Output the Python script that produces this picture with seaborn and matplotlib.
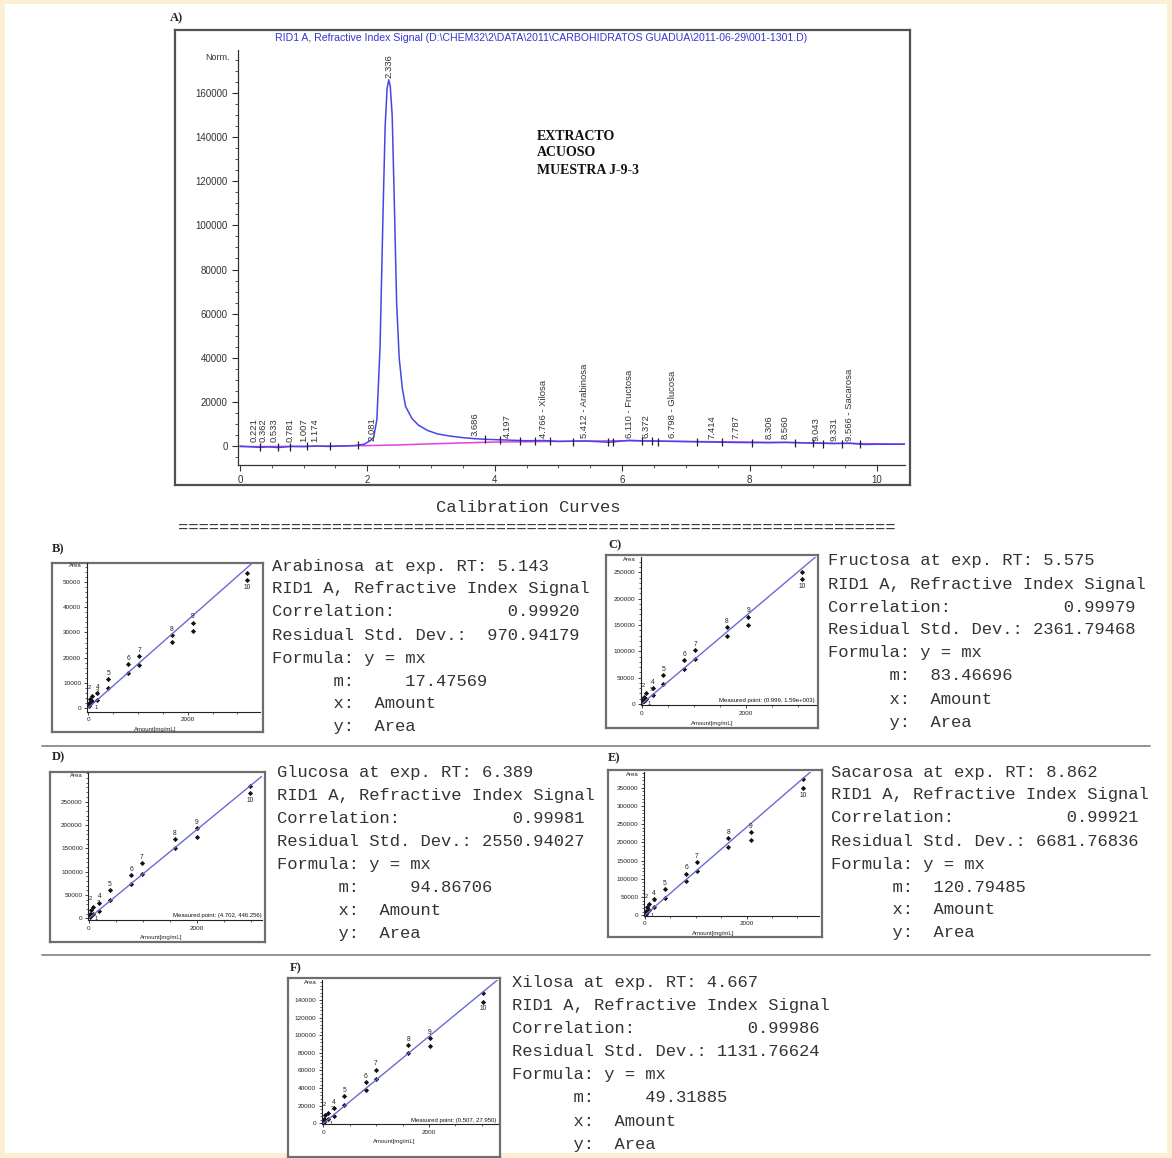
import matplotlib
matplotlib.use("Agg")
import matplotlib.pyplot as plt
from matplotlib.patches import Rectangle
from matplotlib.ticker import MultipleLocator, FixedLocator
import seaborn as sns

sns.set_style("white")
plt.rcParams["font.family"] = ["Liberation Sans", "DejaVu Sans"]

W, H = 1172, 1158

# ---- chromatogram (panel A) ----
rt = [0.0, 0.15, 0.3, 0.45, 0.6, 0.8, 1.0, 1.2, 1.4, 1.6, 1.8, 1.95, 2.05, 2.1,
      2.15, 2.2, 2.25, 2.28, 2.31, 2.336, 2.36, 2.39, 2.42, 2.46, 2.5, 2.55, 2.6,
      2.7, 2.8, 2.95, 3.1, 3.3, 3.5, 3.7, 3.9, 4.2, 4.5, 4.77, 5.0, 5.41, 5.8,
      6.11, 6.37, 6.8, 7.4, 7.8, 8.3, 8.56, 9.04, 9.33, 9.57, 9.8, 10.0, 10.44]
signal = [0, -300, -600, -400, -700, -200, -300, 0, -200, 0, 200, 800, 2500, 4000,
          12000, 45000, 110000, 145000, 162000, 166000, 163000, 150000, 115000,
          65000, 40000, 26000, 18000, 12500, 9500, 7000, 5500, 4500, 3800, 3300,
          3000, 2700, 2400, 2500, 2100, 2300, 1700, 2600, 2300, 2100, 1800, 1600,
          1500, 1700, 1300, 1100, 1300, 700, 800, 800]
base_rt = [0.0, 1.0, 2.0, 2.5, 3.0, 4.0, 5.0, 6.0, 7.0, 8.0, 9.0, 10.0, 10.44]
base_sig = [-300, -100, 200, 500, 1000, 1800, 2100, 2400, 2100, 1800, 1400, 1000, 900]

peak_rt = [0.221, 0.362, 0.533, 0.781, 1.007, 1.174, 2.081, 2.336, 3.686, 4.197,
           4.766, 5.412, 6.110, 6.372, 6.798, 7.414, 7.787, 8.306, 8.560, 9.043,
           9.331, 9.566]
peak_names = ["0.221", "0.362", "0.533", "0.781", "1.007", "1.174", "2.081", "2.336",
              "3.686", "4.197", "4.766 - Xilosa", "5.412 - Arabinosa",
              "6.110 - Fructosa", "6.372", "6.798 - Glucosa", "7.414", "7.787",
              "8.306", "8.560", "9.043", "9.331", "9.566 - Sacarosa"]
peak_label_y = [2000, 2000, 2000, 2000, 2000, 2000, 2500, 167000, 4500, 3500, 3500,
                3500, 3500, 3500, 3500, 3000, 3000, 3000, 3000, 2500, 2500, 2500]
mark_rt = [0.31, 0.60, 0.78, 1.05, 1.41, 1.85, 3.85, 4.08, 4.40, 4.63, 4.87, 5.23,
           5.78, 5.86, 6.31, 6.47, 6.56, 7.17, 7.57, 8.04, 8.71, 9.0, 9.15, 9.45, 9.73]
mark_y = [-300, -500, -600, -200, 0, 300, 3000, 2700, 2500, 2300, 2100, 2000, 1800,
          1800, 2300, 2100, 2000, 1700, 1600, 1500, 1400, 1200, 1100, 1000, 800]

# ---- calibration curves ----
levels = ["1", "2", "3", "4", "5", "6", "7", "8", "9", "10"]

arab_amount = [15, 40, 80, 181, 403, 805, 1027, 1678, 2100, 3188]
arab_upper = [1800, 3500, 4800, 5700, 11300, 17400, 20600, 29000, 33900, 53600]
arab_lower = [600, 1500, 2500, 3100, 7700, 14000, 17000, 26300, 30700, 50900]

fruc_amount = [15, 40, 80, 212, 417, 821, 1026, 1635, 2051, 3077]
fruc_upper = [8000, 14000, 20000, 30000, 55000, 83500, 102500, 146000, 166000, 251000]
fruc_lower = [3000, 6000, 9000, 17000, 38000, 66000, 85000, 129000, 150000, 237000]

gluc_amount = [15, 40, 80, 197, 388, 782, 985, 1588, 2000, 2985]
gluc_upper = [9000, 18000, 25000, 33600, 61000, 93000, 118000, 169000, 193000, 283600]
gluc_lower = [3000, 7000, 10000, 15700, 39000, 73600, 94000, 150000, 175000, 268000]

sac_amount = [15, 40, 80, 177, 393, 807, 1016, 1639, 2079, 3115]
sac_upper = [12000, 22000, 30000, 43000, 72000, 114000, 145000, 211000, 227000, 373000]
sac_lower = [4000, 9000, 13000, 23000, 47000, 93000, 120000, 187000, 205000, 348000]

xil_amount = [15, 40, 80, 202, 397, 801, 997, 1609, 2019, 3028]
xil_upper = [5000, 9000, 12000, 17000, 31000, 47000, 61000, 89000, 96800, 147500]
xil_lower = [1500, 3500, 5000, 8600, 20600, 38000, 50000, 80000, 87500, 138000]


def fax(x0, y0, x1, y1):
    """pixel box -> figure fraction rect"""
    return [x0 / W, 1 - y1 / H, (x1 - x0) / W, (y1 - y0) / H]


def ftext(x, y, s, **kw):
    fig.text(x / W, 1 - y / H, s, **kw)


def frame(x0, y0, x1, y1, color="#6e6e6e"):
    fa = fig.add_axes(fax(x0, y0, x1, y1))
    fa.set_xticks([])
    fa.set_yticks([])
    fa.set_facecolor("white")
    for s in fa.spines.values():
        s.set_color(color)
        s.set_linewidth(1.6)
    return fa


def info_lines(name, rt_val, corr, resid, m, mpad):
    return [f"{name} at exp. RT: {rt_val}",
            "RID1 A, Refractive Index Signal",
            f"{'Correlation:':<23}{corr}",
            f"Residual Std. Dev.:{resid:>11}",
            "Formula: y = mx",
            "      m:" + " " * mpad + m,
            "      x:  Amount",
            "      y:  Area"]


fig = plt.figure(figsize=(W / 100, H / 100), dpi=100)
fig.patch.set_facecolor("#fdefd4")
fig.add_artist(Rectangle((5 / W, 5 / H), 1 - 10 / W, 1 - 9 / H,
                         transform=fig.transFigure, facecolor="white",
                         edgecolor="none", zorder=-1))

serif = ["Liberation Serif", "DejaVu Serif"]
mono = ["Liberation Mono", "DejaVu Sans Mono"]

# ---------------- panel A ----------------
ftext(170, 18, "A)", fontfamily=serif, fontweight="bold", fontsize=9, va="center")
frame(175, 30, 910, 485, color="#505050")
ax = fig.add_axes(fax(238, 50, 905, 465))
ax.set_facecolor("none")
sns.lineplot(x=base_rt, y=base_sig, color="#e040e0", lw=1.1, ax=ax, estimator=None)
sns.lineplot(x=rt, y=signal, color="#4646e6", lw=1.1, ax=ax, estimator=None)
ax.scatter(mark_rt, mark_y, marker="|", s=28, color="#222", linewidths=0.9, zorder=3)
for t, name, yy in zip(peak_rt, peak_names, peak_label_y):
    ax.text(t, yy, name, rotation=90, ha="center", va="bottom", fontsize=6.8,
            color="#333", clip_on=False)
ax.set_xlim(-0.03, 10.44)
ax.set_ylim(-8600, 179500)
ax.xaxis.set_major_locator(MultipleLocator(2))
ax.xaxis.set_minor_locator(MultipleLocator(0.5))
ax.yaxis.set_major_locator(FixedLocator(range(0, 160001, 20000)))
ax.yaxis.set_minor_locator(MultipleLocator(5000))
ax.tick_params(axis="both", which="major", labelsize=7, length=4, width=0.8,
               direction="out", left=True, bottom=True, colors="#333")
ax.tick_params(axis="both", which="minor", length=2, width=0.6, direction="out",
               left=True, bottom=True, colors="#333")
ax.spines["top"].set_visible(False)
ax.spines["right"].set_visible(False)
for s in ("left", "bottom"):
    ax.spines[s].set_color("#333")
    ax.spines[s].set_linewidth(0.9)
ax.set_xlabel("")
ax.set_ylabel("")
ftext(230, 57, "Norm.", ha="right", va="center", fontsize=6.5, color="#333")
ftext(541, 38, "RID1 A, Refractive Index Signal (D:\\CHEM32\\2\\DATA\\2011\\CARBOHIDRATOS "
      "GUADUA\\2011-06-29\\001-1301.D)", ha="center", va="center", fontsize=7.6,
      color="#3535d0")
for i, s in enumerate(["EXTRACTO", "ACUOSO", "MUESTRA J-9-3"]):
    ftext(537, 136 + 17 * i, s, fontfamily=serif, fontweight="bold", fontsize=10,
          va="center", color="#111")

ftext(528, 507, "Calibration Curves", fontfamily=mono, fontsize=12.3, ha="center",
      va="center", color="#333")
ftext(178, 528, "=" * 70, fontfamily=mono, fontsize=12.3, ha="left", va="center",
      color="#333")

# separators
for yy in (746, 955):
    fig.add_artist(plt.Line2D([42 / W, 1150 / W], [1 - yy / H, 1 - yy / H],
                              transform=fig.transFigure, color="#8a8a8a", lw=1.3))

# ---------------- calibration panels ----------------
panels = [
    dict(tag="B)", tag_xy=(52, 549), frame=(51.7, 563.3, 262.7, 731.7),
         box=(86.7, 563.3, 260, 711.7), xlim=(-34, 3456), ylim=(-1600, 57600),
         ystep=10000, ymax=50000, x=arab_amount, up=arab_upper, lo=arab_lower,
         m=17.47569, measured=None,
         text_xy=(272, 566), dy=23,
         lines=info_lines("Arabinosa", "5.143", "0.99920", "970.94179", "17.47569", 5)),
    dict(tag="C)", tag_xy=(608, 545), frame=(606, 555, 818.3, 728.3),
         box=(640.7, 557, 816, 705), xlim=(-19, 3352), ylim=(-1900, 279000),
         ystep=50000, ymax=250000, x=fruc_amount, up=fruc_upper, lo=fruc_lower,
         m=83.46696, measured="Measured point: (0.999, 1.59e+003)",
         text_xy=(828, 561), dy=23,
         lines=info_lines("Fructosa", "5.575", "0.99979", "2361.79468", "83.46696", 2)),
    dict(tag="D)", tag_xy=(52, 757), frame=(50, 771.7, 265, 941.7),
         box=(88.3, 773, 262, 920), xlim=(-10, 3207), ylim=(-3600, 311000),
         ystep=50000, ymax=250000, x=gluc_amount, up=gluc_upper, lo=gluc_lower,
         m=94.86706, measured="Measured point: (4.702, 446.256)",
         text_xy=(277, 772), dy=23.1,
         lines=info_lines("Glucosa", "6.389", "0.99981", "2550.94027", "94.86706", 5)),
    dict(tag="E)", tag_xy=(608, 758), frame=(608.3, 770, 821.7, 936.7),
         box=(644, 772, 819, 915.7), xlim=(-20, 3423), ylim=(-1500, 393000),
         ystep=50000, ymax=350000, x=sac_amount, up=sac_upper, lo=sac_lower,
         m=120.79485, measured=None,
         text_xy=(831, 772), dy=23,
         lines=info_lines("Sacarosa", "8.862", "0.99921", "6681.76836", "120.79485", 2)),
    dict(tag="F)", tag_xy=(290, 968), frame=(288.3, 978.3, 500, 1156.7),
         box=(321.7, 980, 497.5, 1124.3), xlim=(-30, 3297), ylim=(-1000, 162500),
         ystep=20000, ymax=140000, x=xil_amount, up=xil_upper, lo=xil_lower,
         m=49.31885, measured="Measured point: (0.507, 27.950)",
         text_xy=(512, 982), dy=23.2,
         lines=info_lines("Xilosa", "4.667", "0.99986", "1131.76624", "49.31885", 5)),
]

for p in panels:
    ftext(p["tag_xy"][0], p["tag_xy"][1], p["tag"], fontfamily=serif,
          fontweight="bold", fontsize=9, va="center")
    frame(*p["frame"])
    ca = fig.add_axes(fax(*p["box"]))
    ca.set_facecolor("none")
    xmax = p["xlim"][1]
    sns.lineplot(x=[0, xmax], y=[0, p["m"] * xmax], color="#6a6ad6", lw=1.0,
                 ax=ca, estimator=None)
    sns.scatterplot(x=p["x"] + p["x"], y=p["up"] + p["lo"], color="#111",
                    marker="D", s=7, linewidth=0, ax=ca)
    span = p["ylim"][1] - p["ylim"][0]
    xspan = p["xlim"][1] - p["xlim"][0]
    for k, (lv, xx, yu, yl) in enumerate(zip(levels, p["x"], p["up"], p["lo"])):
        if lv == "10":
            ca.text(xx, yl - 0.025 * span, lv, fontsize=4.8, ha="center", va="top",
                    color="#222")
        elif k == 0:
            # cluster of the lowest levels near the origin
            ca.text(xx + 0.03 * xspan, yl - 0.01 * span, lv, fontsize=4.2,
                    ha="left", va="center", color="#222")
        elif k == 1:
            ca.text(xx - 0.005 * xspan, yu + 0.06 * span, lv, fontsize=4.2,
                    ha="center", va="bottom", color="#222")
        elif k == 2:
            ca.text(xx + 0.02 * xspan, yu + 0.01 * span, lv, fontsize=4.2,
                    ha="left", va="bottom", color="#222")
        else:
            ca.text(xx, yu + 0.015 * span, lv, fontsize=4.8, ha="center",
                    va="bottom", color="#222")
    ca.set_xlim(*p["xlim"])
    ca.set_ylim(*p["ylim"])
    ca.xaxis.set_major_locator(FixedLocator([0, 2000]))
    ca.xaxis.set_minor_locator(MultipleLocator(500))
    ca.yaxis.set_major_locator(FixedLocator(range(0, p["ymax"] + 1, p["ystep"])))
    ca.yaxis.set_minor_locator(MultipleLocator(p["ystep"] / 5))
    ca.tick_params(axis="both", which="major", labelsize=4.6, length=2.5, width=0.6,
                   pad=1.5, direction="out", left=True, bottom=True, colors="#222")
    ca.tick_params(axis="both", which="minor", length=1.5, width=0.5,
                   direction="out", left=True, bottom=True, colors="#222")
    ca.spines["top"].set_visible(False)
    ca.spines["right"].set_visible(False)
    for s in ("left", "bottom"):
        ca.spines[s].set_color("#222")
        ca.spines[s].set_linewidth(0.8)
    ca.set_xlabel("")
    ca.set_ylabel("")
    ca.text(-0.03, 1.0, "Area", transform=ca.transAxes, ha="right", va="top",
            fontsize=4.3, color="#222")
    ca.text(1350, -0.105, "Amount[mg/mL]", transform=ca.get_xaxis_transform(),
            ha="center", va="top", fontsize=4.3, color="#222")
    if p["measured"]:
        ca.text(0.995, 0.012, p["measured"], transform=ca.transAxes, ha="right",
                va="bottom", fontsize=4.3, color="#111")
    tx, ty = p["text_xy"]
    for i, line in enumerate(p["lines"]):
        ftext(tx, ty + p["dy"] * i, line, fontfamily=mono, fontsize=12.3,
              va="center", ha="left", color="#333")

fig.savefig("out.png", dpi=100)
